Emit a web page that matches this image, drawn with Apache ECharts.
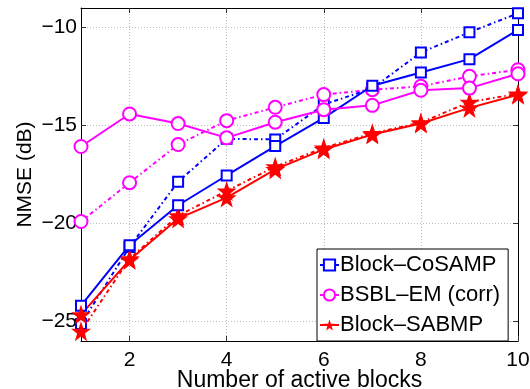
<!DOCTYPE html>
<html>
<head>
<meta charset="utf-8">
<script src="https://cdn.jsdelivr.net/npm/echarts@6/dist/echarts.min.js"></script>
<style>
  html, body { margin: 0; padding: 0; background: #fff; }
  #chart { width: 530px; height: 389px; }
</style>
</head>
<body>
<div id="chart"></div>
<script>
const blocks = [1, 2, 3, 4, 5, 6, 7, 8, 9, 10];
const xTicks = [2, 4, 6, 8, 10];
const yTicks = [-25, -20, -15, -10];

const cosampSolid = [-24.2, -21.11, -19.07, -17.55, -16.05, -14.61, -12.97, -12.29, -11.61, -10.12];
const cosampDash = [-25.13, -21.2, -17.87, -15.68, -15.71, -13.93, -13.1, -11.27, -10.24, -9.27];
const bsblSolid = [-16.07, -14.41, -14.9, -15.63, -14.83, -14.19, -13.97, -13.2, -13.09, -12.36];
const bsblDash = [-19.9, -17.92, -15.97, -14.75, -14.07, -13.42, -13.17, -13.0, -12.49, -12.15];
const sabmpSolid = [-24.65, -21.86, -19.75, -18.68, -17.24, -16.22, -15.46, -14.9, -14.1, -13.43];
const sabmpDash = [-25.5, -21.8, -19.6, -18.34, -17.1, -16.14, -15.4, -14.85, -13.8, -13.38];

const names = ['Block\u2013CoSAMP', 'BSBL\u2013EM (corr)', 'Block\u2013SABMP'];

const font = 'Liberation Sans, Arial, sans-serif';
const dashDot = [4, 3, 1.5, 3];
const pairs = arr => arr.map((v, i) => [blocks[i], v]);
const minus = v => String(v).replace('-', '\u2212');

const star = 'path://M50,0 L61.8,35.1 L98.1,35.1 L68.8,56.8 L79.4,91.9 L50,70.5 L20.6,91.9 L31.2,56.8 L1.9,35.1 L38.2,35.1 Z';

function makeSeries(name, data, color, symbol, size, dashed) {
  const hollow = symbol === 'rect' || symbol === 'circle';
  return {
    name,
    type: 'line',
    data: pairs(data),
    symbol,
    symbolSize: size,
    showAllSymbol: true,
    lineStyle: { color, width: 2, type: dashed ? dashDot : 'solid' },
    itemStyle: hollow
      ? { color: '#fff', borderColor: color, borderWidth: 2 }
      : { color, borderWidth: 0 },
    emphasis: { disabled: true },
    z: dashed ? 2 : 3
  };
}

const chart = echarts.init(document.getElementById('chart'));

const axisLine = { show: true, lineStyle: { color: '#000', width: 1 } };
const tick = vals => ({ show: true, inside: true, length: 5, customValues: vals, lineStyle: { color: '#333' } });
const gridLine = { show: true, lineStyle: { color: '#bbb', type: [1, 2], width: 1 } };

chart.setOption({
  animation: false,
  backgroundColor: '#fff',
  grid: { left: 81, right: 12, top: 8, bottom: 48, outerBoundsMode: 'none' },
  legend: {
    data: names,
    orient: 'vertical',
    left: 317,
    top: 249,
    padding: [5, 8, 5, 2],
    itemGap: 8,
    itemWidth: 19,
    itemHeight: 14,
    backgroundColor: '#fff',
    borderColor: '#000',
    borderWidth: 1,
    borderRadius: 0,
    textStyle: { fontFamily: font, fontSize: 22, color: '#000', padding: [0, 0, 0, -4] }
  },
  xAxis: [
    {
      type: 'value',
      min: 1,
      max: 10,
      name: 'Number of active blocks',
      nameLocation: 'middle',
      nameGap: 28,
      nameMoveOverlap: false,
      nameTextStyle: { fontFamily: font, fontSize: 23, color: '#000' },
      axisLine,
      axisTick: tick(xTicks),
      axisLabel: { customValues: xTicks, fontFamily: font, fontSize: 21, color: '#000', margin: 9 },
      splitLine: gridLine
    },
    {
      type: 'value',
      position: 'top',
      min: 1,
      max: 10,
      axisLine,
      axisTick: tick(xTicks),
      axisLabel: { show: false },
      splitLine: { show: false }
    }
  ],
  yAxis: [
    {
      type: 'value',
      min: -26,
      max: -9,
      name: 'NMSE (dB)',
      nameLocation: 'middle',
      nameGap: 45,
      nameMoveOverlap: false,
      nameTextStyle: { fontFamily: font, fontSize: 21, color: '#000' },
      axisLine,
      axisTick: tick(yTicks),
      axisLabel: { customValues: yTicks, formatter: minus, fontFamily: font, fontSize: 21, color: '#000', margin: 4 },
      splitLine: gridLine
    },
    {
      type: 'value',
      position: 'right',
      min: -26,
      max: -9,
      axisLine,
      axisTick: tick(yTicks),
      axisLabel: { show: false },
      splitLine: { show: false }
    }
  ],
  series: [
    makeSeries(names[0], cosampSolid, '#0000ff', 'rect', 10, false),
    makeSeries(names[1], bsblSolid, '#ff00ff', 'circle', 13, false),
    makeSeries(names[2], sabmpSolid, '#ff0000', star, 20, false),
    makeSeries(names[0], cosampDash, '#0000ff', 'rect', 10, true),
    makeSeries(names[1], bsblDash, '#ff00ff', 'circle', 13, true),
    makeSeries(names[2], sabmpDash, '#ff0000', star, 20, true)
  ]
});
</script>
</body>
</html>
